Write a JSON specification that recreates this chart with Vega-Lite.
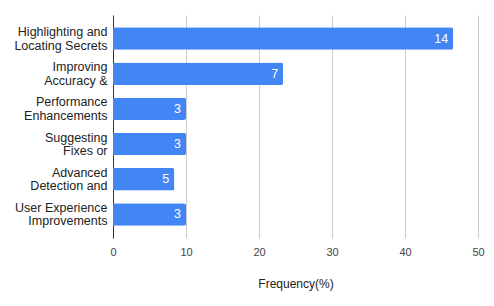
{
  "$schema": "https://vega.github.io/schema/vega-lite/v6.json",
  "width": 365,
  "height": 223,
  "autosize": "none",
  "padding": {"left": 113, "top": 15, "right": 16, "bottom": 68},
  "background": "white",
  "config": {"view": {"stroke": null}, "font": "Liberation Sans"},
  "data": {"values": [
    {"category": "Highlighting and\nLocating Secrets", "pct": 46.6, "count": 14},
    {"category": "Improving\nAccuracy &", "pct": 23.3, "count": 7},
    {"category": "Performance\nEnhancements", "pct": 10.0, "count": 3},
    {"category": "Suggesting\nFixes or", "pct": 10.0, "count": 3},
    {"category": "Advanced\nDetection and", "pct": 8.4, "count": 5},
    {"category": "User Experience\nImprovements", "pct": 10.0, "count": 3}
  ]},
  "encoding": {
    "y": {"field": "category", "type": "nominal", "sort": null,
      "scale": {"paddingInner": 0.364, "paddingOuter": 0.35},
      "axis": {"title": null, "ticks": false, "domainColor": "#333", "domainWidth": 1,
        "labelExpr": "split(datum.label, '\\n')", "labelFontSize": 12.5, "labelColor": "#222",
        "labelPadding": 6, "labelLineHeight": 13.5, "labelLimit": 200, "labelOffset": -6.5}},
    "x": {"field": "pct", "type": "quantitative",
      "scale": {"domain": [0, 50], "nice": false},
      "axis": {"title": "Frequency(%)", "values": [0, 10, 20, 30, 40, 50], "domain": false, "ticks": false,
        "labelFlush": false,
        "gridColor": "#cccccc", "labelFontSize": 11, "labelColor": "#444", "labelPadding": 8,
        "titleFontSize": 12, "titleFontWeight": "normal", "titleColor": "#222", "titlePadding": 21}}
  },
  "layer": [
    {"mark": {"type": "bar", "color": "#4285F4", "cornerRadiusEnd": 2}},
    {"mark": {"type": "text", "align": "right", "dx": -5, "color": "white", "fontSize": 12.5},
     "encoding": {"text": {"field": "count", "type": "quantitative"}}}
  ]
}
